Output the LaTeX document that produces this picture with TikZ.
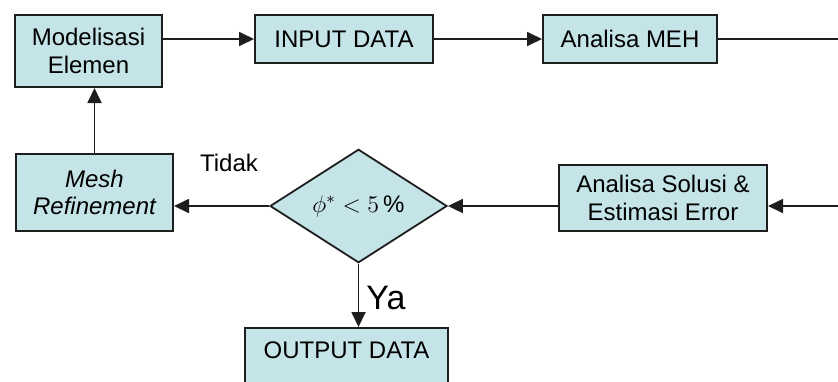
\documentclass[tikz,border=0pt]{standalone}
\usepackage{fontspec}
\setmainfont{Liberation Sans}
\usepackage{amsmath, amssymb}
\usetikzlibrary{arrows.meta, shapes.geometric}
\definecolor{boxcol}{RGB}{197,228,232}
\definecolor{linecol}{RGB}{30,30,30}

\begin{document}
\begin{tikzpicture}[x=0.5pt, y=-0.5pt, font=\fontsize{12}{13.8}\selectfont,
    box/.style={draw=linecol, line width=1pt, fill=boxcol, inner sep=0pt, align=center},
    decide/.style={diamond, draw=linecol, line width=0.9pt, fill=boxcol, inner sep=0pt},
    arr/.style={line width=0.9pt, draw=linecol, -{Triangle[length=7.5pt, width=7pt]}},
    ln/.style={line width=0.9pt, draw=linecol}]
  \useasboundingbox (0,0) rectangle (838,381);
  \node[box, minimum width=73.5pt, minimum height=36pt] (mod) at (88.5,51) {Modelisasi\\Elemen};
  \node[box, minimum width=89pt, minimum height=24pt] (inp) at (344,39) {INPUT DATA};
  \node[box, minimum width=87pt, minimum height=24pt] (meh) at (630,39) {Analisa MEH};
  \node[box, minimum width=104pt, minimum height=33pt] (sol) at (663,198) {Analisa Solusi \&\\Estimasi Error};
  \node[decide, minimum width=88.5pt, minimum height=54pt] (dec) at (358.5,206) {$\phi^{*} < 5\,\%$};
  \node[box, minimum width=78.5pt, minimum height=38.5pt] (mesh) at (94.5,192.5) {\itshape Mesh\\\itshape Refinement};
  \node[box, anchor=north, minimum width=101.5pt, inner ysep=7pt, text depth=30pt] (out) at (346.5,327) {OUTPUT DATA};
  \coordinate (outR) at (838,39);
  \coordinate (inR) at (838,206);
  \draw[arr] (mod.east |- inp.west) -- (inp.west);
  \draw[arr] (inp.east) -- (meh.west);
  \draw[ln] (meh.east) -- (outR);
  \draw[arr] (inR) -- (inR -| sol.east);
  \draw[arr] (sol.west |- dec.east) -- (dec.east);
  \draw[arr] (dec.west) -- (dec.west -| mesh.east);
  \draw[arr] (mesh.north) -- (mesh.north |- mod.south);
  \draw[arr] (dec.south) -- (dec.south |- out.north);
  \node (tidak) at (229,163) {Tidak};
  \node[font=\fontsize{17}{19}\selectfont] (ya) at (386,298) {Ya};
\end{tikzpicture}
\end{document}
